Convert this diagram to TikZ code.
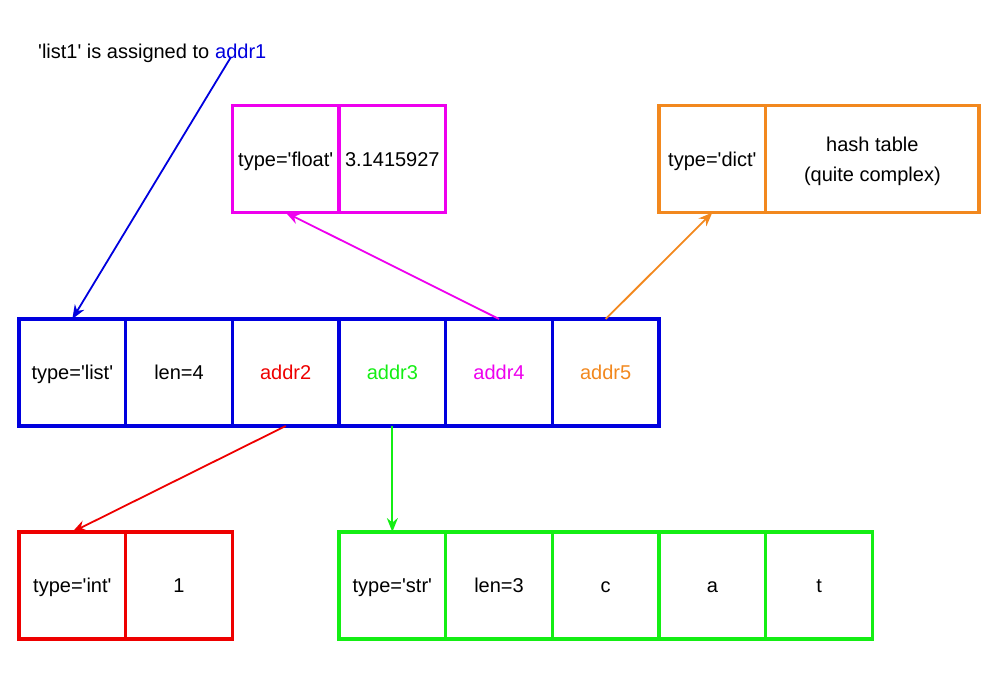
\documentclass[tikz,border=0pt]{standalone}
\usepackage{fontspec}
\setmainfont{Liberation Sans}
\usetikzlibrary{arrows.meta}
\definecolor{cblue}{RGB}{0,0,222}
\definecolor{cred}{RGB}{238,0,0}
\definecolor{cgreen}{RGB}{20,238,20}
\definecolor{cmagenta}{RGB}{238,0,238}
\definecolor{corange}{RGB}{242,136,30}
\newcommand{\qs}[1]{\textquotesingle#1\textquotesingle}
\tikzset{
 cell/.style={draw,line width=3.2pt,minimum width=106.67pt,minimum height=107pt,inner sep=0pt,outer sep=0pt,align=center,text height=14.3pt,text depth=0pt,font=\fontsize{20}{30}\selectfont},
 ptr/.style={line width=1.8pt,-{Stealth[length=14pt,width=11pt]}}
}
\begin{document}
\begin{tikzpicture}[x=1pt,y=-1pt]
 \useasboundingbox (0,0) rectangle (1000,693);
 % the list object
 \foreach \t/\col [count=\i] in {type=\qs{list}/black,len=4/black,addr2/cred,addr3/cgreen,addr4/cmagenta,addr5/corange}
  \node[cell,draw=cblue,text=\col] (list\i) at ({19+(\i-0.5)*106.67},372.5) {\t};
 % float
 \node[cell,draw=cmagenta] (float1) at ({19+2.5*106.67},159) {type=\qs{float}};
 \node[cell,draw=cmagenta] (float2) at ({19+3.5*106.67},159) {3.1415927};
 % dict
 \node[cell,draw=corange] (dict1) at ({19+6.5*106.67},159) {type=\qs{dict}};
 \node[cell,draw=corange,minimum width=213.33pt,text height=44.6pt] (dict2) at ({19+8*106.67},159) {hash table\\(quite complex)};
 % int
 \node[cell,draw=cred] (int1) at ({19+0.5*106.67},585.5) {type=\qs{int}};
 \node[cell,draw=cred] (int2) at ({19+1.5*106.67},585.5) {1};
 % str
 \foreach \t [count=\i] in {type=\qs{str},len=3,c,a,t}
  \node[cell,draw=cgreen] (str\i) at ({19+(\i+2.5)*106.67},585.5) {\t};
 % name
 \node[anchor=base west,inner sep=0pt,font=\fontsize{20}{24}\selectfont] (note) at (38,59) {\qs{list1} is assigned to};
 \node[anchor=base west,inner sep=0pt,font=\fontsize{20}{24}\selectfont,text=cblue] (noteaddr) at ([xshift=5.5pt]note.base east) {addr1};
 \draw[ptr,cblue] ([xshift=-10pt,yshift=2pt]noteaddr.south) -- (list1.north);
 \draw[ptr,cmagenta] (list5.north) -- (float1.south);
 \draw[ptr,corange] (list6.north) -- (dict1.south);
 \draw[ptr,cred] (list3.south) -- (int1.north);
 \draw[ptr,cgreen] (list4.south) -- (str1.north);
\end{tikzpicture}
\end{document}
